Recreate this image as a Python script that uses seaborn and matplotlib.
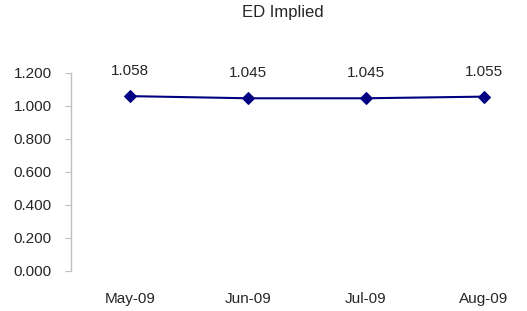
import matplotlib
matplotlib.use("Agg")
import matplotlib.pyplot as plt
import seaborn as sns
import pandas as pd

months = ["May-09", "Jun-09", "Jul-09", "Aug-09"]
implied = [1.058, 1.045, 1.045, 1.055]
y_ticks = [0.0, 0.2, 0.4, 0.6, 0.8, 1.0, 1.2]

sns.set_style("white")
plt.rcParams["font.family"] = ["Liberation Sans", "DejaVu Sans"]

df = pd.DataFrame({"month": months, "implied": implied})

fig = plt.figure(figsize=(5.27, 3.11), dpi=100)
ax = fig.add_axes([71 / 527, 40.3 / 311, 472 / 527, 198 / 311])
sns.lineplot(data=df, x="month", y="implied", ax=ax, color="#000080",
             marker="D", markersize=6, linewidth=1.5, markeredgecolor="#000080", sort=False)

# value labels above each point
for i, v in enumerate(implied):
    ax.annotate(f"{v:.3f}", (i, v), xytext=(0, 18), textcoords="offset points",
                ha="center", va="center", fontsize=11)

ax.set_xlim(-0.5, 3.5)
ax.set_ylim(0, 1.2)
ax.set_yticks(y_ticks)
ax.set_yticklabels([f"{t:.3f}" for t in y_ticks], fontsize=11)
ax.tick_params(axis="y", left=True, length=4, color="#c0c0c0", pad=10)
ax.tick_params(axis="x", bottom=False, labelsize=11, pad=12)
ax.set_xlabel("")
ax.set_ylabel("")
for s in ["top", "right", "bottom"]:
    ax.spines[s].set_visible(False)
ax.spines["left"].set_color("#c0c0c0")
ax.spines["left"].set_linewidth(1)

fig.text(283 / 527, 1 - 12 / 311, "ED Implied", ha="center", va="center", fontsize=12)

fig.savefig("out.png", dpi=100)
